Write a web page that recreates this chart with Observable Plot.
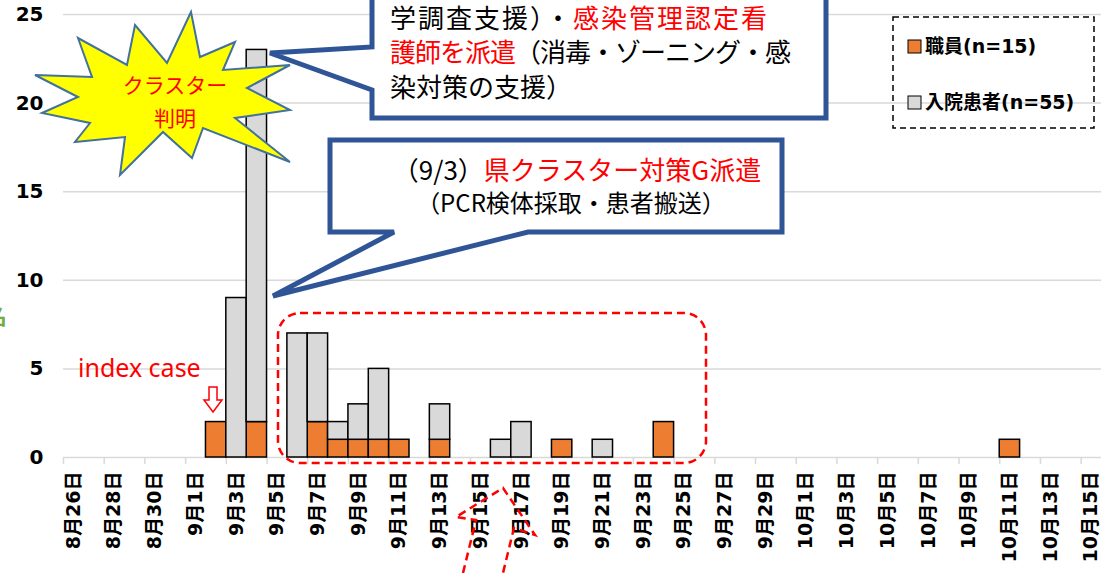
<!DOCTYPE html>
<html><head><meta charset="utf-8">
<script src="https://cdn.jsdelivr.net/npm/d3@7"></script>
<script src="https://cdn.jsdelivr.net/npm/@observablehq/plot@0.6"></script>
<style>html,body{margin:0;padding:0;background:#fff;overflow:hidden;} svg{display:block;}</style>
</head><body><div id="chart"></div>
<script>
// ---- data ----
const domainStart = "2020-08-26";
const domainEnd = "2020-10-16";
const labelDates = ["2020-08-26","2020-08-28","2020-08-30","2020-09-01","2020-09-03","2020-09-05","2020-09-07","2020-09-09","2020-09-11","2020-09-13","2020-09-15","2020-09-17","2020-09-19","2020-09-21","2020-09-23","2020-09-25","2020-09-27","2020-09-29","2020-10-01","2020-10-03","2020-10-05","2020-10-07","2020-10-09","2020-10-11","2020-10-13","2020-10-15"];
const yTicks = [0,5,10,15,20,25];
const seriesNames = ["職員","入院患者"];
const seriesColors = ["#ED7D31","#D9D9D9"];
const staffDates = ["2020-09-02","2020-09-04","2020-09-07","2020-09-08","2020-09-09","2020-09-10","2020-09-11","2020-09-13","2020-09-19","2020-09-24","2020-10-11"];
const staffCounts = [2,2,2,1,1,1,1,1,1,2,1];
const patientDates = ["2020-09-03","2020-09-04","2020-09-06","2020-09-07","2020-09-08","2020-09-09","2020-09-10","2020-09-13","2020-09-16","2020-09-17","2020-09-21"];
const patientCounts = [9,21,7,5,1,2,4,2,1,2,1];

// ---- table ----
const parse = s => new Date(s + "T00:00:00Z");
const rows = [
  ...staffDates.map((d,i) => ({date: parse(d), count: staffCounts[i], series: seriesNames[0]})),
  ...patientDates.map((d,i) => ({date: parse(d), count: patientCounts[i], series: seriesNames[1]}))
];
const totals = [d3.sum(staffCounts), d3.sum(patientCounts)];
const boundaries = labelDates.map(parse);
const labelPos = boundaries.map(d => d3.utcHour.offset(d, 12));
const fmt = d => `${d.getUTCMonth()+1}月${d.getUTCDate()}日`;

const W = 1103, H = 573;
const font = "'DejaVu Sans','Noto Sans CJK JP',sans-serif";

const plot = Plot.plot({
  width: W, height: H,
  marginLeft: 63, marginRight: 2, marginTop: 14, marginBottom: 116,
  style: {fontFamily: font, background: "#fff", overflow: "visible"},
  x: {type: "utc", domain: [parse(domainStart), parse(domainEnd)], label: null},
  y: {domain: [0, 25], label: null},
  color: {domain: seriesNames, range: seriesColors},
  marks: [
    Plot.gridY(yTicks.filter(v => v > 0), {stroke: "#D9D9D9", strokeOpacity: 1, strokeWidth: 1.5}),
    Plot.ruleY([0], {stroke: "#D9D9D9", strokeWidth: 1.5}),
    Plot.axisX(boundaries, {tickSize: 7, stroke: "#D9D9D9", strokeWidth: 1.5, tickFormat: () => "", label: null}),
    Plot.axisX(labelPos, {tickSize: 0, tickPadding: 14, tickRotate: -90, tickFormat: fmt, fontSize: 19, fontWeight: "bold", fill: "#000", label: null}),
    Plot.axisY(yTicks, {tickSize: 0, tickPadding: 20, fontSize: 20, fontWeight: "bold", fill: "#000", label: null}),
    Plot.rectY(rows, Plot.stackY({x1: "date", x2: d => d3.utcDay.offset(d.date, 1), y: "count", fill: "series", stroke: "#000", strokeWidth: 1.5}))
  ]
});
document.getElementById("chart").appendChild(plot);

// ---- annotations ----
const svg = d3.select(plot);
const g = svg.append("g").attr("text-anchor", "start");

// green axis title fragment (cut off at left)
g.append("text").attr("x", -15).attr("y", 324).attr("font-size", 22).attr("font-weight", "bold")
  .attr("font-family", "'Noto Sans CJK JP'").attr("fill", "#70AD47").text("名");

// starburst
const star = [[191,12],[200,57],[235,42],[223,70],[290,65],[247,88],[290,110],[235,118],[290,162],[203,128],[192,158],[163,132],[120,175],[125,137],[75,142],[90,123],[42,113],[78,97],[35,75],[92,77],[78,38],[127,65],[135,25],[167,63]];
g.append("polygon").attr("points", star.map(p => p.join(",")).join(" "))
  .attr("fill", "#FFFF00").attr("stroke", "#41719C").attr("stroke-width", 2);
g.append("text").attr("x", 175).attr("y", 93).attr("text-anchor", "middle").attr("font-size", 21)
  .attr("font-family", "'Noto Sans CJK JP'").attr("fill", "#FF0000").text("クラスター");
g.append("text").attr("x", 175).attr("y", 126).attr("text-anchor", "middle").attr("font-size", 21)
  .attr("font-family", "'Noto Sans CJK JP'").attr("fill", "#FF0000").text("判明");

// callout 1
g.append("path").attr("d", "M372,-10 L372,47 L270,53 L372,90 L372,118 L826,118 L826,-10 Z")
  .attr("fill", "#fff").attr("stroke", "#2F5597").attr("stroke-width", 5).attr("stroke-linejoin", "miter");
const t1 = g.append("g").attr("font-family", "'Noto Sans CJK JP'").attr("font-size", 26).attr("text-anchor", "start");
const r1 = t1.append("text").attr("x", 390).attr("y", 28).attr("letter-spacing", 2);
r1.append("tspan").attr("fill", "#000").text("学調査支援）・");
r1.append("tspan").attr("fill", "#FF0000").text("感染管理認定看");
const r2 = t1.append("text").attr("x", 390).attr("y", 62).attr("letter-spacing", -1);
r2.append("tspan").attr("fill", "#FF0000").text("護師を派遣");
r2.append("tspan").attr("fill", "#000").text("（消毒・ゾーニング・感");
t1.append("text").attr("x", 390).attr("y", 97).attr("fill", "#000").text("染対策の支援）");

// callout 2
g.append("path").attr("d", "M330,140 L782,140 L782,232 L528,232 L273,296 L394,232 L330,232 Z")
  .attr("fill", "#fff").attr("stroke", "#2F5597").attr("stroke-width", 5).attr("stroke-linejoin", "miter");
const t2 = g.append("g").attr("font-family", "'Noto Sans CJK JP'").attr("text-anchor", "middle");
const s1 = t2.append("text").attr("x", 577).attr("y", 180).attr("font-size", 26);
s1.append("tspan").attr("fill", "#000").text("（9/3）");
s1.append("tspan").attr("fill", "#FF0000").text("県クラスター対策G派遣");
t2.append("text").attr("x", 571).attr("y", 212).attr("font-size", 24).attr("fill", "#000").text("（PCR検体採取・患者搬送）");

// red dashed rounded rectangle
g.append("rect").attr("x", 278).attr("y", 313).attr("width", 428).attr("height", 150).attr("rx", 22)
  .attr("fill", "none").attr("stroke", "#FF0000").attr("stroke-width", 2.5).attr("stroke-dasharray", "8,5");

// index case
g.append("text").attr("x", 78).attr("y", 377).attr("font-size", 25).attr("font-family", "'Noto Sans'")
  .attr("text-anchor", "start").attr("fill", "#FF0000").text("index case");
g.append("path").attr("d", "M209,387 L217,387 L217,400 L222,400 L213,412 L204,400 L209,400 Z")
  .attr("fill", "#fff").attr("stroke", "#FF0000").attr("stroke-width", 1.5);

// red dashed arrow at bottom
g.append("path").attr("d", "M463,573 L476,520 L456,517 L503,488 L535,535 L514,528 L503,573")
  .attr("fill", "none").attr("stroke", "#FF0000").attr("stroke-width", 2.5).attr("stroke-dasharray", "8,5");

// legend
g.append("rect").attr("x", 893).attr("y", 17).attr("width", 201).attr("height", 111)
  .attr("fill", "none").attr("stroke", "#000").attr("stroke-width", 1.5).attr("stroke-dasharray", "6,4");
const legY = [46, 102];
seriesNames.forEach((name, i) => {
  g.append("rect").attr("x", 908).attr("y", legY[i] - 6).attr("width", 13).attr("height", 13)
    .attr("fill", seriesColors[i]).attr("stroke", "#000").attr("stroke-width", 1);
  g.append("text").attr("x", 925).attr("y", legY[i] + 7).attr("font-size", 19).attr("font-weight", "bold")
    .attr("text-anchor", "start").attr("font-family", font).attr("fill", "#000").text(`${name}(n=${totals[i]})`);
});
</script>
</body></html>
